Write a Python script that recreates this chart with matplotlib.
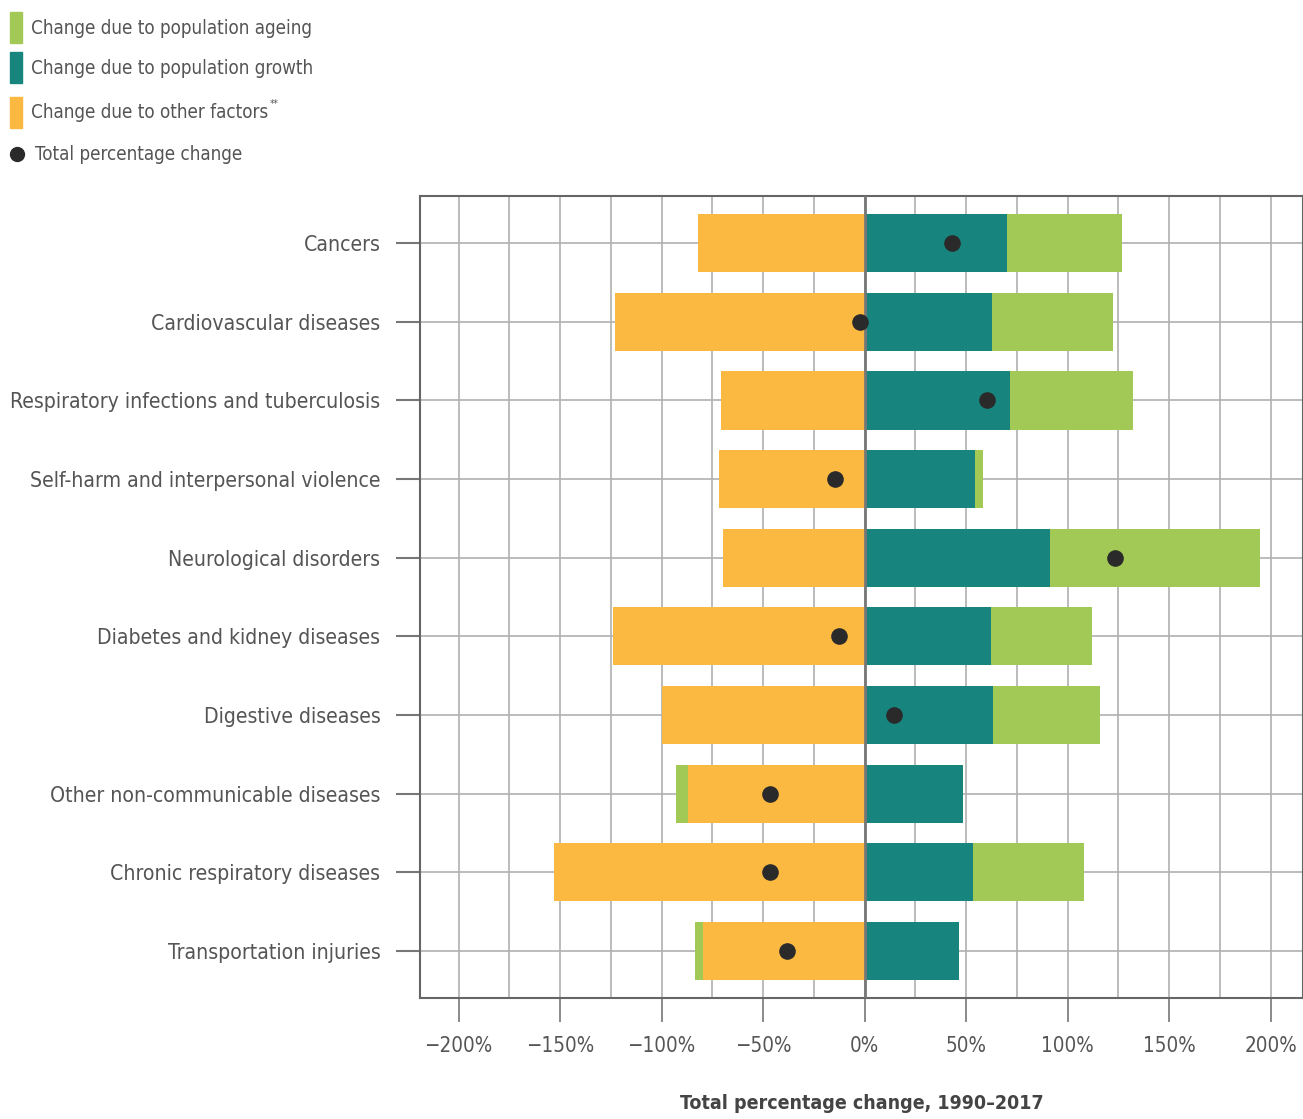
import matplotlib
matplotlib.use("Agg")
import matplotlib.pyplot as plt
from matplotlib.patches import Rectangle
from matplotlib.lines import Line2D
import numpy as np

plt.rcParams['font.family'] = ['DejaVu Sans']
plt.rcParams['font.stretch'] = 'condensed'

# data (percent change 1990-2017)
causes = ["Cancers", "Cardiovascular diseases", "Respiratory infections and tuberculosis",
          "Self-harm and interpersonal violence", "Neurological disorders",
          "Diabetes and kidney diseases", "Digestive diseases",
          "Other non-communicable diseases", "Chronic respiratory diseases",
          "Transportation injuries"]
ageing = [56.2, 59.6, 60.6, 4.4, 103.4, 50.2, 52.7, -5.9, 54.7, -3.9]
growth = [70.4, 62.6, 71.9, 54.2, 91.6, 62.1, 63.1, 48.3, 53.2, 46.3]
other = [-81.8, -122.7, -70.9, -71.9, -69.5, -124.1, -100.0, -87.2, -153.2, -79.8]
total = [43.3, -2.0, 60.1, -14.3, 123.6, -12.8, 14.3, -46.8, -46.8, -38.4]
xticks = [-200, -150, -100, -50, 0, 50, 100, 150, 200]

c_age = "#a2c955"
c_growth = "#17857d"
c_other = "#fcb941"
c_dot = "#2a2a2a"
txt = "#555555"

fig = plt.figure(figsize=(13.03, 11.19), dpi=100)
ax = fig.add_axes([0.3223, 0.1081, 0.6777, 0.7167])

y = np.arange(len(causes))
ageing = np.array(ageing)
growth = np.array(growth)
other = np.array(other)
h = 0.74

ax.barh(y, growth, height=h, color=c_growth, zorder=3)
ax.barh(y, other, height=h, color=c_other, zorder=3)
age_left = np.where(ageing >= 0, growth, other)
ax.barh(y, ageing, left=age_left, height=h, color=c_age, zorder=3)
ax.scatter(total, y, s=120, color=c_dot, zorder=5)

ax.set_xlim(-219, 216)
ax.set_ylim(len(causes) - 0.5 + 0.1, -0.5 - 0.1)
ax.set_yticks(y)
ax.set_yticklabels(causes, fontsize=15.2, color=txt)
ax.set_xticks(xticks)
ax.set_xticklabels([("\u2212%d%%" % -v) if v < 0 else "%d%%" % v for v in xticks],
                   fontsize=14.8, color=txt)
ax.set_xticks(np.arange(-200, 201, 25), minor=True)
ax.tick_params(axis='y', length=17, width=1.5, color="#777777", pad=11.5)
ax.tick_params(axis='x', which='major', length=17, width=1.2, color="#777777", pad=10.5)
ax.tick_params(axis='x', which='minor', length=0)
ax.grid(True, which='both', axis='x', color="#b0b0b0", lw=1.2, zorder=0)
ax.grid(True, axis='y', color="#b0b0b0", lw=1.2, zorder=0)
ax.axvline(0, color="#777777", lw=2, zorder=4)
for s in ax.spines.values():
    s.set_color("#666666")
    s.set_linewidth(1.5)

ax.set_xlabel("Total percentage change, 1990\u20132017", fontsize=14, fontweight='bold',
              color="#444444", labelpad=27)

# legend
labels = ["Change due to population ageing", "Change due to population growth",
          "Change due to other factors"]
cols = [c_age, c_growth, c_other]
tops = [12, 52, 97]
W, H = 1303, 1119
renderer = fig.canvas.get_renderer()
for lab, col, t in zip(labels, cols, tops):
    fig.add_artist(Rectangle((10 / W, 1 - (t + 31) / H), 12 / W, 31 / H,
                             color=col, transform=fig.transFigure))
    tt = fig.text(31 / W, 1 - (t + 16) / H, lab, fontsize=13.5, color=txt, va='center')
bb = tt.get_window_extent(renderer)
fig.text(bb.x1 / W + 1 / W, 1 - 104 / H, "**", fontsize=7, color=txt, va='center')
fig.add_artist(Line2D([17 / W], [1 - 154 / H], marker='o', markersize=10,
                      color=c_dot, transform=fig.transFigure))
fig.text(35 / W, 1 - 154 / H, "Total percentage change", fontsize=13.5, color=txt,
         va='center')

fig.savefig("out.png", dpi=100)
